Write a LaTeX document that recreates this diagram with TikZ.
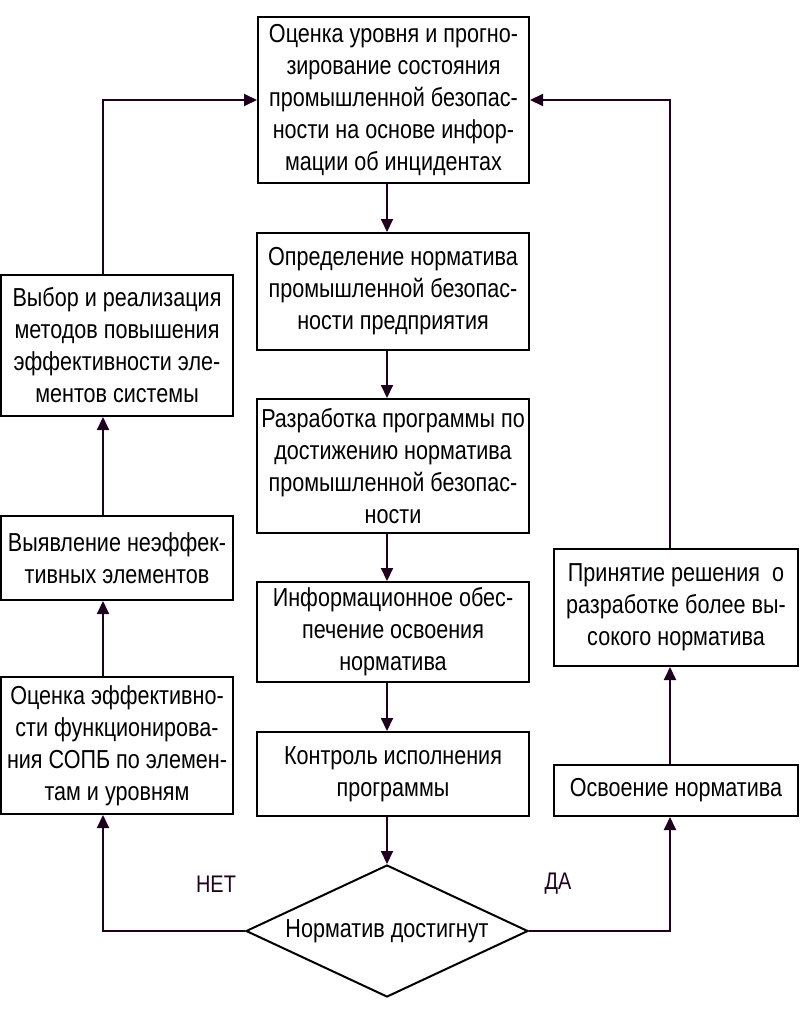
\documentclass[tikz,border=0pt]{standalone}
\usepackage{fontspec}
\setmainfont[FakeStretch=0.83]{Liberation Sans}
\usetikzlibrary{arrows.meta,shapes.geometric}
\definecolor{conn}{RGB}{30,0,30}
\definecolor{lbl}{RGB}{32,0,32}
\tikzset{
  blk/.style={draw=black, line width=2pt, rectangle, inner sep=0pt, align=center,
    font=\fontsize{26}{32}\selectfont},
  dec/.style={draw=black, line width=2pt, diamond, aspect=2.14, inner sep=0pt,
    minimum width=282pt, minimum height=132pt, font=\fontsize{26}{32}\selectfont},
  arr/.style={draw=conn, line width=2pt, -{Triangle[length=13pt,width=12pt]}},
  ln/.style={draw=conn, line width=2pt},
  lab/.style={text=lbl, font=\fontsize{24}{28}\selectfont, inner sep=0pt}
}
\begin{document}
\begin{tikzpicture}[x=1pt,y=-1pt]
\useasboundingbox (0,0) rectangle (800,1015);
\node[blk, minimum width=271pt, minimum height=166pt] (A) at (393.5,100)
  {Оценка уровня и прогно-\\зирование состояния\\промышленной безопас-\\ности на основе инфор-\\мации об инцидентах};
\node[blk, minimum width=272pt, minimum height=117pt] (B) at (393,291.5)
  {Определение норматива\\промышленной безопас-\\ности предприятия};
\node[blk, minimum width=272pt, minimum height=134pt] (C) at (393,466)
  {Разработка программы по\\достижению норматива\\промышленной безопас-\\ности};
\node[blk, minimum width=272pt, minimum height=100pt] (D) at (393,632)
  {Информационное обес-\\печение освоения\\норматива};
\node[blk, minimum width=272pt, minimum height=84pt] (E) at (393,774)
  {Контроль исполнения\\программы};
\node[dec] (dm) at (387,931) {Норматив достигнут};
\node[blk, minimum width=232pt, minimum height=141pt] (L1) at (117,345.5)
  {Выбор и реализация\\методов повышения\\эффективности эле-\\ментов системы};
\node[blk, minimum width=232pt, minimum height=84pt] (L2) at (117,558)
  {Выявление неэффек-\\тивных элементов};
\node[blk, minimum width=232pt, minimum height=137pt] (L3) at (117,745.5)
  {Оценка эффективно-\\сти функционирова-\\ния СОПБ по элемен-\\там и уровням};
\node[blk, minimum width=244pt, minimum height=117pt] (R1) at (676,607.5)
  {Принятие решения~~о\\разработке более вы-\\сокого норматива};
\node[blk, minimum width=244pt, minimum height=51pt] (R2) at (676,790.5)
  {Освоение норматива};
\node[lab] (net) at (216,884) {НЕТ};
\node[lab] (da) at (558,884) {ДА};
\coordinate (lx) at (103,0);
\coordinate (rx) at (670,0);
% central column
\draw[arr] (A.south -| dm.north) -- (B.north -| dm.north);
\draw[arr] (B.south -| dm.north) -- (C.north -| dm.north);
\draw[arr] (C.south -| dm.north) -- (D.north -| dm.north);
\draw[arr] (D.south -| dm.north) -- (E.north -| dm.north);
\draw[arr] (E.south -| dm.north) -- (dm.north);
% left column
\draw[arr] (dm.west) -- (dm.west -| lx) -- (L3.south -| lx);
\draw[arr] (L3.north -| lx) -- (L2.south -| lx);
\draw[arr] (L2.north -| lx) -- (L1.south -| lx);
\draw[arr] (L1.north -| lx) -- (lx |- A.west) -- (A.west);
% right column
\draw[arr] (dm.east) -- (dm.east -| rx) -- (R2.south -| rx);
\draw[arr] (R2.north -| rx) -- (R1.south -| rx);
\draw[arr] (R1.north -| rx) -- (rx |- A.east) -- (A.east);
\end{tikzpicture}
\end{document}
